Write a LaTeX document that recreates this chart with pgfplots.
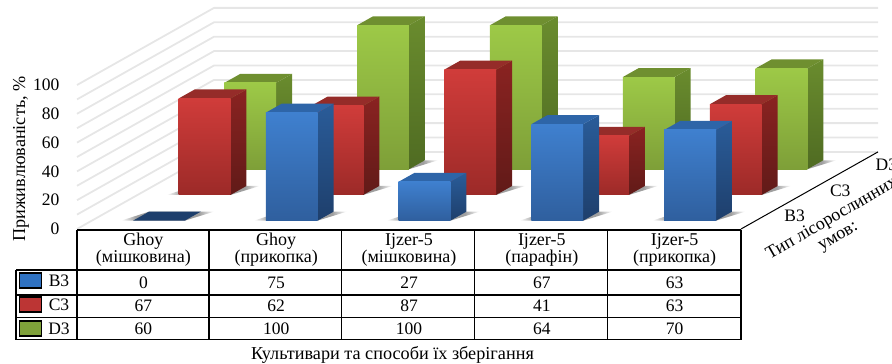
\documentclass[border=0pt]{standalone}
\usepackage{fontspec}
\setmainfont{Liberation Serif}
\usepackage{pgfplots}
\usepackage{pgfplotstable}
\pgfplotsset{compat=1.18}

% Survival per cultivar and storage method, one column per site type
\pgfplotstableread{
cat B3 C3 D3
0   0   67  60
1   75  62  100
2   27  87  100
3   67  41  64
4   63  63  70
}\survival

\definecolor{BFt}{HTML}{3F80CF}\definecolor{BFb}{HTML}{2F5F9E}
\definecolor{BSt}{HTML}{2A5C99}\definecolor{BSb}{HTML}{1E3F6C}
\definecolor{BT}{HTML}{2E65A8}
\definecolor{CFt}{HTML}{D03C3A}\definecolor{CFb}{HTML}{9C2A28}
\definecolor{CSt}{HTML}{8A2321}\definecolor{CSb}{HTML}{611A18}
\definecolor{CT}{HTML}{952C29}
\definecolor{DFt}{HTML}{9DC947}\definecolor{DFb}{HTML}{7E9F38}
\definecolor{DSt}{HTML}{6A8C2E}\definecolor{DSb}{HTML}{4F6B22}
\definecolor{DT}{HTML}{6F8F30}
\definecolor{wallgrid}{HTML}{E6E6E6}
\definecolor{keyB}{HTML}{2F72C2}
\definecolor{keyC}{HTML}{BC3534}
\definecolor{keyD}{HTML}{7FA13A}

\pgfdeclarehorizontalshading{floorshadow}{100bp}{
  color(0bp)=(white); color(25bp)=(white); color(33bp)=(gray!75);
  color(67bp)=(gray!75); color(75bp)=(white); color(100bp)=(white)}

% One cuboid: category index, row index, value, colour stem
\newcommand\barbox[4]{%
  \pgfmathsetmacro\xa{#1+0.31}\pgfmathsetmacro\xb{#1+0.70}%
  \pgfmathsetmacro\ya{#2+0.325}\pgfmathsetmacro\yb{#2+0.675}%
  \pgfmathsetmacro\xs{#1+0.22}\pgfmathsetmacro\xt{#1+0.80}%
  \addplot3[draw=none,shading=floorshadow] coordinates
    {(\xs,\ya,0) (\xb,\ya,0) (\xt,\yb,0) (\xa,\yb,0)} --cycle;
  \ifdim#3pt=0pt
    \addplot3[draw=none,fill=#4Sb] coordinates
      {(\xa,\ya,0) (\xb,\ya,0) (\xb,\yb,0) (\xa,\yb,0)} --cycle;
  \else
    \addplot3[draw=none,top color=#4St,bottom color=#4Sb] coordinates
      {(\xb,\ya,0) (\xb,\yb,0) (\xb,\yb,#3) (\xb,\ya,#3)} --cycle;
    \addplot3[draw=none,fill=#4T] coordinates
      {(\xa,\ya,#3) (\xb,\ya,#3) (\xb,\yb,#3) (\xa,\yb,#3)} --cycle;
    \addplot3[draw=none,top color=#4Ft,bottom color=#4Fb] coordinates
      {(\xa,\ya,0) (\xb,\ya,0) (\xb,\ya,#3) (\xa,\ya,#3)} --cycle;
  \fi
}

% All five cuboids of one site type: column, row index, colour stem
\newcommand\barrow[3]{%
  \pgfplotsinvokeforeach{0,...,4}{%
    \pgfplotstablegetelem{##1}{#1}\of\survival
    \edef\barval{\pgfplotsretval}%
    \expandafter\barbox\expandafter{\expandafter##1\expandafter}\expandafter{\expandafter#2\expandafter}\expandafter{\barval}{#3}%
  }%
}

\newcommand\tablerow[2]{%
  \foreach \c in {0,...,4}{%
    \pgfplotstablegetelem{\c}{#1}\of\survival
    \node[font=\fontsize{17.5}{19}\selectfont] at ({77+132.8*(\c+0.5)},#2) {\pgfplotsretval};
  }%
}

\begin{document}
\begin{tikzpicture}[x=1pt,y=-1pt]
\useasboundingbox (0,0) rectangle (892,364);

\begin{axis}[
  anchor=origin, at={(77pt,-229pt)},
  x={(132.8pt,0pt)}, y={(45.67pt,25.7pt)}, z={(0pt,1.44pt)},
  xmin=0, xmax=5, ymin=0, ymax=3, zmin=0, zmax=100,
  clip=false,
  axis line style={draw=none},
  tick style={draw=none},
  xtick=\empty,
  ytick={0.5,1.5,2.5}, yticklabels={B3,C3,D3},
  ztick={0,20,...,100},
  ytick pos=left, ztick pos=left,
  /pgf/number format/assume math mode=true,
  tick label style={font=\fontsize{17.5}{19}\selectfont},
  y tick label style={anchor=west,xshift=17pt,yshift=0pt},
  z tick label style={anchor=east,xshift=-14pt},
]
  % Walls
  \pgfplotsinvokeforeach{0,10,...,100}{%
    \addplot3[wallgrid,line width=1.8pt] coordinates {(0,0,#1) (0,3,#1) (5,3,#1)};
  }
  % Floor edge on the right
  \addplot3[black,line width=1pt] coordinates {(5,0,0) (5,3,0)};

  \barrow{D3}{2}{D}
  \barrow{C3}{1}{C}
  \barrow{B3}{0}{B}
\end{axis}

% Data table under the plot
\begin{scope}[line width=1.4pt]
  \draw (77,230) -- (741,230);
  \draw (16,270) -- (741,270);
  \draw (16,295) -- (741,295);
  \draw (16,317.5) -- (741,317.5);
  \draw (16,339.5) -- (741,339.5);
  \draw (16,270) -- (16,339.5);
  \foreach \xv in {77,208.8,341.6,474.4,607.2,741}
    \draw (\xv,230) -- (\xv,339.5);
\end{scope}

\foreach \c/\la/\lb in {0/Ghoy/(мішковина),1/Ghoy/(прикопка),2/Ijzer-5/(мішковина),3/Ijzer-5/(парафін),4/Ijzer-5/(прикопка)}{
  \node[font=\fontsize{18}{20}\selectfont] at ({77+132.8*(\c+0.5)},241.5) {\la};
  \node[font=\fontsize{18}{20}\selectfont] at ({77+132.8*(\c+0.5)},258.5) {\lb};
}
\tablerow{B3}{283}
\tablerow{C3}{306}
\tablerow{D3}{328.5}

% Legend keys in the first column
\foreach \yt/\yb/\col/\lab in {273/288/keyB/B3,297/312/keyC/C3,321/336/keyD/D3}{
  \draw[black,line width=1.3pt,fill=\col] (19.5,\yt) rectangle (41.5,\yb);
  \node[font=\fontsize{17.5}{19}\selectfont] at (59,{(\yt+\yb)/2}) {\lab};
}

% Axis titles
\node[font=\fontsize{18.2}{20}\selectfont,rotate=90] at (21,159) {Приживлюваність, \%};
\node[font=\fontsize{18.2}{20}\selectfont] at (392.5,355) {Культивари та способи їх зберігання};
\node[font=\fontsize{18}{20}\selectfont,rotate=30] at (832,219) {Тип лісорослинних};
\node[font=\fontsize{18}{20}\selectfont,rotate=30] at (839,238) {умов:};
\end{tikzpicture}
\end{document}
